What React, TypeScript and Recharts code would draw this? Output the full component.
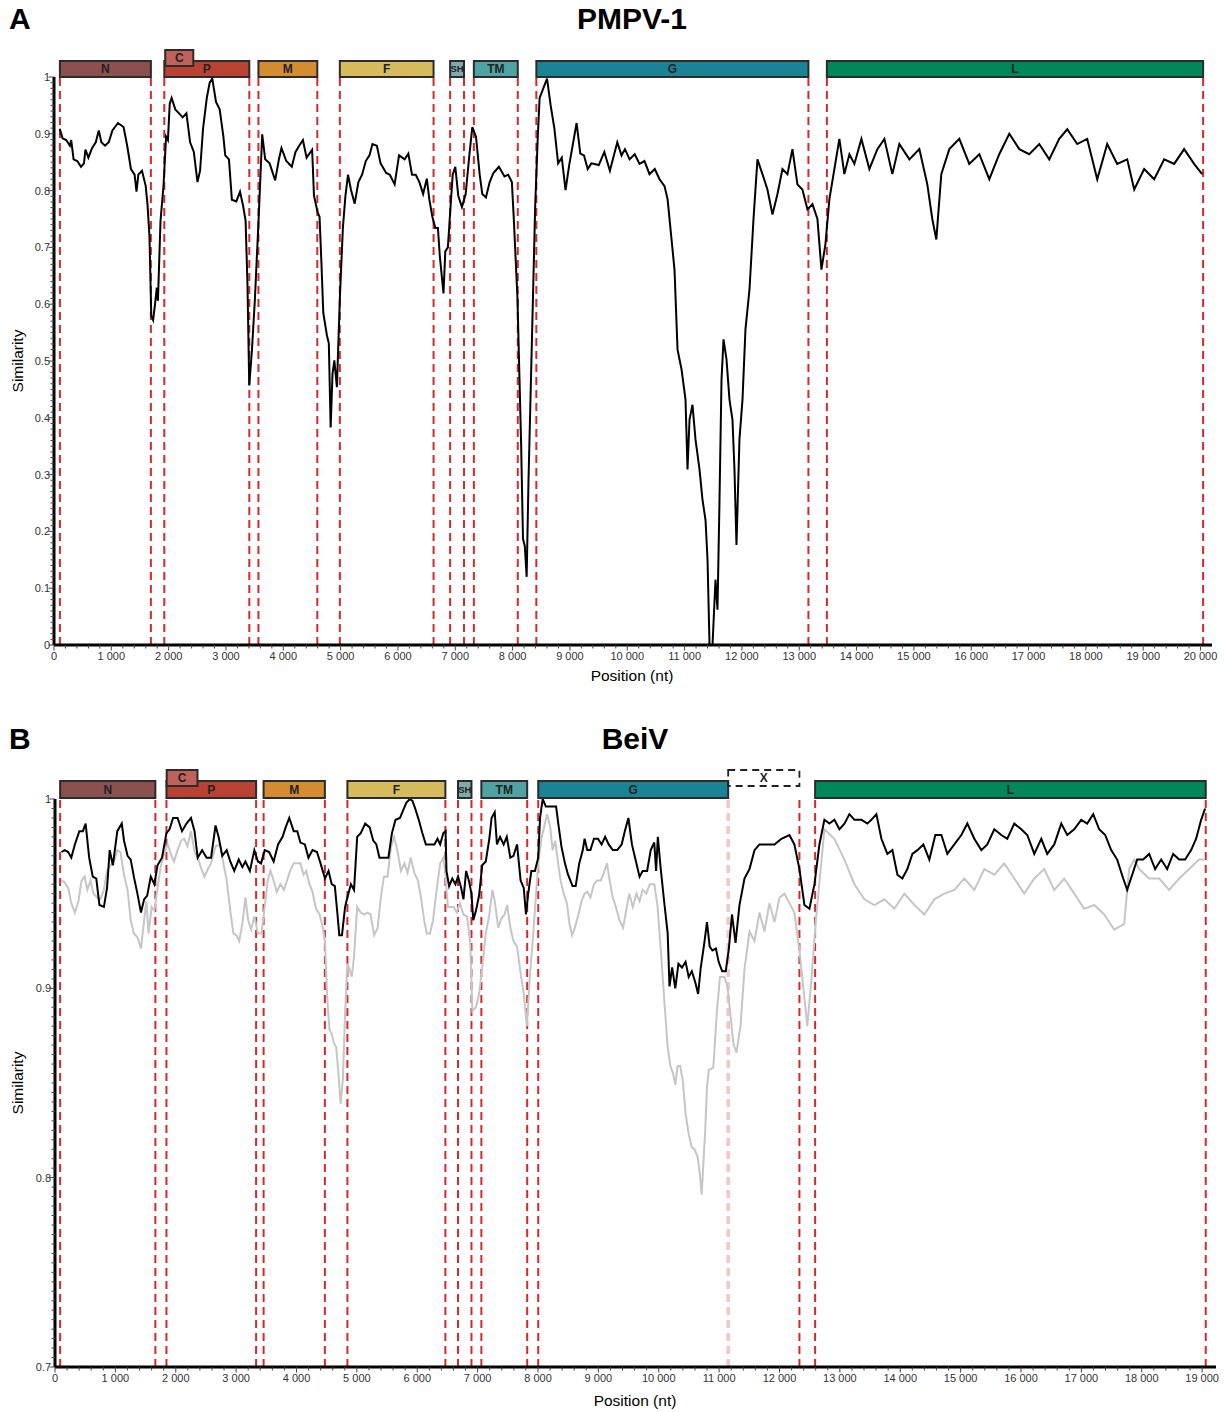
import { LineChart, Line, XAxis, YAxis, ReferenceArea, ReferenceLine } from 'recharts';

const FONT = '"Liberation Sans", Arial, Helvetica, sans-serif';

// ---- genes ----
const geneNames = ['N', 'P', 'M', 'F', 'SH', 'TM', 'G', 'L'];
const geneColors = ['#8b5050', '#b94232', '#d38c2f', '#d6bc5c', '#7eabab', '#4fa3a2', '#1a8494', '#00875a'];
const cColor = '#c0625b';

const pmpvGeneStart = [103, 1924, 3566, 4986, 6910, 7324, 8414, 13482];
const pmpvGeneEnd = [1690, 3407, 4593, 6621, 7152, 8090, 13160, 20045];
const pmpvC = [1940, 2430];

const beivGeneStart = [85, 1846, 3455, 4843, 6675, 7062, 8004, 12590];
const beivGeneEnd = [1662, 3331, 4470, 6466, 6898, 7821, 11150, 19060];
const beivC = [1850, 2360];
const beivX = [11150, 12330];

// ---- PMPV-1 similarity ----
const pmpvPos = [
  100, 150, 213, 277, 300, 342, 406, 471, 523, 548, 600, 665, 729, 781, 826, 890, 955, 1019, 1116, 1213,
  1277, 1342, 1406, 1439, 1471, 1535, 1600, 1632, 1665, 1697, 1729, 1761, 1794, 1813, 1858, 1910, 1955, 1987, 2019, 2052,
  2116, 2181, 2245, 2310, 2374, 2439, 2503, 2548, 2600, 2665, 2716, 2761, 2826, 2890, 2955, 2987, 3052, 3103, 3181, 3245,
  3297, 3342, 3374, 3406, 3452, 3503, 3568, 3632, 3684, 3761, 3858, 3923, 3968, 4052, 4148, 4213, 4277, 4342, 4406, 4503,
  4535, 4600, 4632, 4665, 4697, 4761, 4794, 4826, 4858, 4890, 4935, 4987, 5039, 5084, 5129, 5181, 5245, 5310, 5374, 5439,
  5503, 5555, 5632, 5697, 5794, 5858, 5942, 6019, 6116, 6181, 6245, 6310, 6374, 6439, 6503, 6548, 6600, 6652, 6697, 6729,
  6761, 6794, 6826, 6871, 6910, 6955, 7000, 7052, 7116, 7181, 7245, 7297, 7361, 7426, 7471, 7535, 7600, 7665, 7761, 7858,
  7923, 7987, 8019, 8084, 8148, 8181, 8213, 8245, 8277, 8342, 8394, 8439, 8471, 8535, 8600, 8665, 8729, 8794, 8858, 8923,
  8987, 9052, 9116, 9181, 9245, 9310, 9374, 9503, 9600, 9697, 9826, 9900, 9960, 10040, 10130, 10214, 10300, 10388, 10480, 10563,
  10650, 10703, 10824, 10877, 10947,
  11016, 11051, 11086, 11138, 11190, 11260, 11312, 11365, 11400, 11435, 11487, 11539, 11574, 11609, 11644, 11679, 11731, 11783, 11835, 11870,
  11905, 11957, 12010, 12062, 12132, 12202, 12271, 12358, 12445, 12533, 12620, 12707, 12794, 12881, 12968, 13055, 13143, 13230, 13317, 13387,
  13456, 13526, 13613, 13700, 13787, 13875, 13962, 14084, 14223, 14363, 14485, 14624, 14746, 14921, 15095, 15234, 15321, 15391, 15478, 15618,
  15792, 15966, 16141, 16315, 16489, 16664, 16838, 17012, 17187, 17361, 17535, 17675, 17849, 18023, 18198, 18372, 18546, 18721, 18843, 19017,
  19191, 19366, 19540, 19714, 19888, 20028,
];
const pmpvSim = [
  0.909, 0.892, 0.889, 0.879, 0.889, 0.855, 0.852, 0.842, 0.848, 0.872, 0.858, 0.875, 0.885, 0.906, 0.885, 0.879, 0.885, 0.906, 0.919, 0.912,
  0.879, 0.838, 0.828, 0.798, 0.828, 0.835, 0.808, 0.774, 0.72, 0.579, 0.572, 0.599, 0.629, 0.606, 0.747, 0.808, 0.895, 0.889, 0.953, 0.963,
  0.943, 0.936, 0.929, 0.936, 0.885, 0.868, 0.815, 0.835, 0.909, 0.963, 0.99, 0.997, 0.956, 0.943, 0.895, 0.862, 0.855, 0.784, 0.781, 0.798,
  0.774, 0.747, 0.639, 0.457, 0.518, 0.606, 0.747, 0.899, 0.855, 0.848, 0.818, 0.855, 0.875, 0.852, 0.842, 0.868, 0.879, 0.889, 0.858, 0.872,
  0.791, 0.761, 0.754, 0.673, 0.585, 0.545, 0.531, 0.383, 0.477, 0.501, 0.454, 0.612, 0.734, 0.791, 0.828, 0.801, 0.777, 0.815, 0.828, 0.852,
  0.862, 0.882, 0.879, 0.848, 0.831, 0.828, 0.811, 0.862, 0.855, 0.865, 0.828, 0.828, 0.815, 0.794, 0.821, 0.784, 0.754, 0.734, 0.734, 0.686,
  0.653, 0.619, 0.693, 0.7, 0.761, 0.828, 0.842, 0.791, 0.771, 0.794, 0.862, 0.912, 0.895, 0.828, 0.794, 0.788, 0.815, 0.831, 0.842, 0.825,
  0.828, 0.815, 0.754, 0.612, 0.356, 0.187, 0.174, 0.12, 0.289, 0.558, 0.774, 0.895, 0.963, 0.98, 0.997, 0.949, 0.909, 0.848, 0.858, 0.801,
  0.845, 0.882, 0.919, 0.865, 0.862, 0.838, 0.848, 0.845, 0.868, 0.835, 0.885, 0.862, 0.873, 0.855, 0.864, 0.847, 0.852, 0.829, 0.838, 0.82,
  0.808, 0.785, 0.661, 0.52, 0.485,
  0.432, 0.309, 0.397, 0.423, 0.362, 0.309, 0.256, 0.22, 0.15, 0, 0, 0.115, 0.062, 0.256, 0.467, 0.538, 0.503, 0.432, 0.397, 0.309,
  0.176, 0.362, 0.432, 0.556, 0.626, 0.75, 0.855, 0.829, 0.802, 0.758, 0.794, 0.838, 0.829, 0.873, 0.811, 0.802, 0.767, 0.776, 0.75, 0.661,
  0.705, 0.785, 0.838, 0.891, 0.829, 0.864, 0.847, 0.891, 0.838, 0.873, 0.891, 0.829, 0.882, 0.855, 0.873, 0.811, 0.75, 0.714, 0.829, 0.873,
  0.891, 0.847, 0.864, 0.82, 0.864, 0.9, 0.873, 0.864, 0.882, 0.855, 0.891, 0.908, 0.882, 0.891, 0.82, 0.882, 0.847, 0.855, 0.802, 0.838,
  0.82, 0.855, 0.847, 0.873, 0.847, 0.829,
];

// ---- BeiV similarity (black) ----
const beivPos = [
  107, 159, 218, 270, 329, 403, 462, 507, 566, 625, 684, 736, 810, 862, 906, 958, 1032, 1106, 1143, 1202,
  1254, 1306, 1365, 1424, 1476, 1527, 1586, 1646, 1698, 1772, 1846, 1897, 1956, 2030, 2104, 2178, 2252, 2311, 2363, 2437,
  2511, 2585, 2659, 2710, 2770, 2844, 2903, 2969, 3043, 3103, 3154, 3228, 3302, 3361, 3413, 3473, 3547, 3621, 3695, 3769,
  3820, 3880, 3954, 4013, 4065, 4139, 4198, 4265, 4339, 4398, 4472, 4531, 4583, 4635, 4679, 4709, 4753, 4805, 4842, 4901,
  4953, 5005, 5064, 5138, 5212, 5271, 5323, 5374, 5448, 5522, 5581, 5640, 5714, 5766, 5818, 5877, 5921, 5966, 6025, 6084,
  6143, 6210, 6284, 6335, 6380, 6432, 6469, 6484, 6528, 6580, 6632, 6676, 6728, 6765, 6810, 6854, 6898, 6928, 6972, 7024,
  7076, 7135, 7194, 7231, 7283, 7320, 7372, 7431, 7483, 7542, 7594, 7653, 7712, 7764, 7801, 7838, 7890, 7949, 8004, 8034,
  8078, 8130, 8204, 8300, 8336, 8388, 8446, 8498, 8572, 8624, 8683, 8742, 8772, 8816, 8868, 8927, 8994, 9053, 9112, 9171,
  9238, 9312, 9386, 9438, 9497, 9556, 9608, 9682, 9734, 9808, 9867, 9926, 9956, 9985, 10030, 10089, 10148, 10178, 10222, 10274,
  10326, 10385, 10444, 10496, 10548, 10607, 10652, 10696, 10755, 10799, 10844, 10888, 10947, 10992, 11051, 11110, 11161, 11213, 11272, 11337,
  11420, 11503, 11586, 11668, 11801, 11917, 12032, 12165, 12247, 12330, 12413, 12496, 12579, 12661, 12744, 12827, 12910, 12992, 13075, 13158,
  13241, 13357, 13456, 13522, 13605, 13688, 13787, 13870, 13953, 14035, 14118, 14201, 14284, 14383, 14482, 14581, 14681, 14780, 14896, 15012,
  15111, 15227, 15343, 15442, 15558, 15674, 15773, 15889, 16005, 16104, 16220, 16336, 16435, 16551, 16667, 16766, 16882, 16998, 17097, 17196,
  17295, 17395, 17494, 17593, 17693, 17759, 17842, 17924, 18024, 18123, 18222, 18322, 18421, 18520, 18620, 18719, 18818, 18901, 18984, 19050,
];
const beivSim = [
  0.972, 0.973, 0.972, 0.969, 0.976, 0.983, 0.983, 0.987, 0.969, 0.959, 0.958, 0.944, 0.943, 0.953, 0.973, 0.965, 0.983, 0.987, 0.978, 0.97,
  0.968, 0.959, 0.95, 0.94, 0.947, 0.949, 0.959, 0.955, 0.965, 0.969, 0.982, 0.984, 0.99, 0.99, 0.983, 0.987, 0.99, 0.983, 0.969, 0.973,
  0.969, 0.969, 0.986, 0.98, 0.97, 0.973, 0.967, 0.962, 0.968, 0.964, 0.967, 0.962, 0.973, 0.967, 0.966, 0.973, 0.972, 0.967, 0.976, 0.98,
  0.985, 0.99, 0.983, 0.983, 0.977, 0.976, 0.969, 0.973, 0.972, 0.966, 0.958, 0.962, 0.955, 0.954, 0.939, 0.928, 0.928, 0.943, 0.948, 0.955,
  0.952, 0.98, 0.982, 0.987, 0.985, 0.978, 0.976, 0.969, 0.969, 0.969, 0.982, 0.989, 0.99, 0.994, 0.998, 1.0, 0.999, 0.995, 0.989, 0.982,
  0.976, 0.976, 0.976, 0.979, 0.976, 0.982, 0.983, 0.962, 0.954, 0.958, 0.955, 0.959, 0.953, 0.947, 0.962, 0.957, 0.95, 0.936, 0.941, 0.949,
  0.965, 0.967, 0.979, 0.99, 0.993, 0.976, 0.98, 0.976, 0.98, 0.969, 0.97, 0.976, 0.957, 0.953, 0.939, 0.95, 0.962, 0.962, 0.969, 0.99,
  1.0, 0.996, 0.996, 0.996, 0.987, 0.975, 0.966, 0.96, 0.954, 0.954, 0.966, 0.973, 0.979, 0.973, 0.973, 0.979, 0.979, 0.976, 0.98, 0.976,
  0.973, 0.973, 0.976, 0.983, 0.99, 0.976, 0.969, 0.959, 0.962, 0.962, 0.973, 0.977, 0.962, 0.98, 0.964, 0.946, 0.929, 0.901, 0.911, 0.9,
  0.913, 0.911, 0.914, 0.906, 0.909, 0.903, 0.897, 0.911, 0.924, 0.935, 0.922, 0.92, 0.921, 0.914, 0.909, 0.909, 0.921, 0.939, 0.924, 0.944,
  0.958, 0.963, 0.973, 0.976, 0.976, 0.976, 0.979, 0.981, 0.976, 0.963, 0.944, 0.942, 0.955, 0.976, 0.989, 0.987, 0.989, 0.984, 0.987, 0.992,
  0.989, 0.989, 0.987, 0.989, 0.992, 0.979, 0.971, 0.973, 0.96, 0.958, 0.963, 0.971, 0.973, 0.976, 0.968, 0.981, 0.981, 0.971, 0.976, 0.981,
  0.987, 0.979, 0.973, 0.976, 0.984, 0.981, 0.979, 0.987, 0.984, 0.981, 0.971, 0.979, 0.971, 0.976, 0.987, 0.981, 0.984, 0.989, 0.987, 0.992,
  0.984, 0.981, 0.973, 0.968, 0.958, 0.952, 0.96, 0.968, 0.968, 0.971, 0.963, 0.968, 0.963, 0.971, 0.968, 0.968, 0.973, 0.979, 0.989, 0.995,
];

// ---- BeiV similarity (grey, second comparison) ----
const beivGreyPos = [
  107, 159, 218, 270, 329, 388, 440, 492, 536, 588, 640, 699, 751, 810, 862, 921, 980, 1032, 1084, 1143,
  1202, 1254, 1306, 1365, 1424, 1476, 1513, 1550, 1601, 1646, 1698, 1749, 1808, 1867, 1919, 1971, 2030, 2089, 2141, 2193,
  2252, 2311, 2363, 2415, 2474, 2533, 2585, 2659, 2733, 2784, 2844, 2903, 2955, 3006, 3051, 3103, 3154, 3199, 3250, 3302,
  3361, 3420, 3473, 3524, 3569, 3621, 3673, 3732, 3791, 3843, 3895, 3954, 4013, 4065, 4117, 4161, 4213, 4265, 4324, 4383,
  4435, 4472, 4509, 4546, 4583, 4620, 4657, 4694, 4731, 4768, 4805, 4842, 4879, 4916, 4953, 5005, 5064, 5123, 5175, 5227,
  5286, 5345, 5397, 5448, 5507, 5566, 5618, 5670, 5729, 5788, 5840, 5892, 5951, 6010, 6062, 6114, 6158, 6210, 6262, 6321,
  6380, 6432, 6469, 6506, 6543, 6602, 6654, 6706, 6765, 6824, 6876, 6913, 6972, 7024, 7076, 7135, 7194, 7246, 7283, 7342,
  7394, 7446, 7490, 7542, 7594, 7653, 7712, 7764, 7816, 7860, 7912, 7964, 8004, 8056, 8108, 8152, 8204, 8241, 8285, 8329,
  8374, 8426, 8478, 8522, 8566, 8611, 8670, 8721, 8772, 8817, 8868, 8927, 8979, 9038, 9090, 9142, 9186, 9238, 9290, 9349,
  9408, 9460, 9512, 9571, 9630, 9682, 9734, 9793, 9852, 9926, 9978, 10030, 10089, 10148, 10193, 10237, 10274, 10311, 10355, 10399,
  10444, 10496, 10548, 10592, 10644, 10681, 10711, 10740, 10770, 10799, 10829, 10903, 10962, 11014, 11088, 11139, 11184, 11235, 11287, 11354,
  11420, 11503, 11586, 11668, 11751, 11834, 11917, 12000, 12082, 12165, 12247, 12330, 12413, 12460, 12530, 12600, 12744, 12910, 13075, 13241,
  13406, 13572, 13737, 13903, 14068, 14234, 14399, 14565, 14730, 14896, 15061, 15227, 15392, 15558, 15723, 15889, 16054, 16220, 16385, 16551,
  16716, 16882, 17047, 17213, 17378, 17544, 17709, 17792, 17875, 17958, 18123, 18289, 18454, 18620, 18785, 18950, 19050,
];
const beivGreySim = [
  0.957, 0.956, 0.953, 0.945, 0.94, 0.946, 0.957, 0.959, 0.952, 0.957, 0.95, 0.948, 0.947, 0.952, 0.962, 0.965, 0.967, 0.973, 0.972, 0.96,
  0.952, 0.936, 0.929, 0.927, 0.921, 0.936, 0.946, 0.929, 0.943, 0.941, 0.953, 0.964, 0.971, 0.976, 0.971, 0.967, 0.973, 0.978, 0.979, 0.975,
  0.983, 0.972, 0.969, 0.964, 0.959, 0.963, 0.966, 0.975, 0.976, 0.967, 0.957, 0.941, 0.929, 0.928, 0.925, 0.934, 0.948, 0.936, 0.931, 0.938,
  0.929, 0.929, 0.943, 0.957, 0.962, 0.957, 0.951, 0.955, 0.952, 0.957, 0.962, 0.966, 0.966, 0.966, 0.96, 0.962, 0.955, 0.951, 0.942, 0.939,
  0.932, 0.925, 0.895, 0.878, 0.876, 0.871, 0.869, 0.855, 0.839, 0.852, 0.887, 0.913, 0.91, 0.906, 0.917, 0.943, 0.94, 0.939, 0.94, 0.939,
  0.928, 0.932, 0.948, 0.959, 0.959, 0.975, 0.98, 0.973, 0.962, 0.966, 0.961, 0.969, 0.961, 0.957, 0.948, 0.936, 0.929, 0.929, 0.936, 0.952,
  0.966, 0.969, 0.96, 0.943, 0.943, 0.943, 0.94, 0.945, 0.939, 0.938, 0.925, 0.888, 0.89, 0.897, 0.911, 0.929, 0.939, 0.952, 0.946, 0.932,
  0.937, 0.939, 0.944, 0.932, 0.925, 0.922, 0.908, 0.897, 0.88, 0.904, 0.925, 0.948, 0.966, 0.979, 0.986, 0.992, 0.985, 0.973, 0.978, 0.967,
  0.957, 0.95, 0.945, 0.934, 0.928, 0.932, 0.939, 0.946, 0.95, 0.951, 0.948, 0.955, 0.957, 0.957, 0.961, 0.966, 0.957, 0.948, 0.943, 0.936,
  0.932, 0.941, 0.95, 0.943, 0.95, 0.946, 0.952, 0.95, 0.955, 0.955, 0.944, 0.922, 0.895, 0.869, 0.859, 0.855, 0.849, 0.859, 0.859, 0.851,
  0.834, 0.823, 0.816, 0.815, 0.811, 0.802, 0.791, 0.808, 0.825, 0.848, 0.857, 0.858, 0.887, 0.906, 0.906, 0.901, 0.887, 0.871, 0.866, 0.88,
  0.91, 0.93, 0.925, 0.94, 0.93, 0.945, 0.935, 0.948, 0.95, 0.945, 0.94, 0.92, 0.895, 0.88, 0.905, 0.935, 0.984, 0.979, 0.968, 0.955,
  0.947, 0.944, 0.947, 0.942, 0.95, 0.944, 0.939, 0.947, 0.95, 0.952, 0.958, 0.952, 0.963, 0.96, 0.966, 0.958, 0.95, 0.958, 0.963, 0.952,
  0.958, 0.95, 0.942, 0.944, 0.939, 0.931, 0.934, 0.963, 0.968, 0.963, 0.958, 0.958, 0.952, 0.958, 0.963, 0.968, 0.968,
];

// axis ticks
const xTicksA = Array.from({ length: 101 }, (_, i) => i * 200);
const xTicksB = Array.from({ length: 96 }, (_, i) => i * 200);
const yTicksA = Array.from({ length: 101 }, (_, i) => i / 100);
const yTicksB = Array.from({ length: 61 }, (_, i) => Math.round((0.7 + i * 0.005) * 1000) / 1000);

const zip = (pos: number[], sim: number[]) => pos.map((p, i) => ({ pos: p, sim: sim[i] }));
const pmpvData = zip(pmpvPos, pmpvSim);
const beivData = zip(beivPos, beivSim);
const beivGreyData = zip(beivGreyPos, beivGreySim);

const fmtX = (v: number) => (v === 0 ? '0' : `${Math.floor(v / 1000)} 000`);

const XTick = (props: any) => {
  const { x, y, payload } = props;
  const v = payload.value;
  const major = v % 1000 === 0;
  return (
    <g>
      <line x1={x} x2={x} y1={y} y2={y + (major ? 5.5 : 3.5)} stroke="#444" strokeWidth={1} />
      {major && (
        <text x={x} y={y + 15} textAnchor="middle" fontSize={11} fill="#333" fontFamily={FONT}>
          {fmtX(v)}
        </text>
      )}
    </g>
  );
};

const YTick = (props: any) => {
  const { x, y, payload } = props;
  const v = payload.value;
  const major = Math.abs(v * 10 - Math.round(v * 10)) < 1e-6;
  return (
    <g>
      <line x1={x} x2={x - (major ? 5.5 : 3.5)} y1={y} y2={y} stroke="#444" strokeWidth={1} />
      {major && (
        <text x={x - 4} y={y + 4} textAnchor="end" fontSize={11} fill="#333" fontFamily={FONT}>
          {String(Math.round(v * 10) / 10)}
        </text>
      )}
    </g>
  );
};

const labelStyle = (name: string) => ({
  value: name,
  position: 'center' as const,
  fill: '#222',
  fontSize: name === 'SH' ? 9.5 : 12,
  fontWeight: 700,
  fontFamily: FONT,
});

const geneAreas = (prefix: string, starts: number[], ends: number[], lo: number, hi: number) =>
  geneNames.map((name, i) => (
    <ReferenceArea
      key={`${prefix}-${name}`}
      x1={starts[i]}
      x2={ends[i]}
      y1={lo}
      y2={hi}
      ifOverflow="visible"
      fill={geneColors[i]}
      fillOpacity={1}
      stroke="#2b2b2b"
      strokeWidth={2}
      label={labelStyle(name)}
    />
  ));

const boundaryLines = (prefix: string, xs: number[], color = '#d42a2a', width = 2) =>
  xs.map((x, i) => (
    <ReferenceLine
      key={`${prefix}-${i}`}
      x={x}
      stroke={color}
      strokeWidth={width}
      strokeDasharray="8 5"
      ifOverflow="visible"
    />
  ));

const axisLine = { stroke: '#000', strokeWidth: 3 };

const textBase: React.CSSProperties = { position: 'absolute', fontFamily: FONT, color: '#000', whiteSpace: 'nowrap' };

export default function App() {
  // panel geometry (pixels)
  const plotH = 568;
  const pxA = 1 / plotH; // similarity units per px, panel A
  const pxB = 0.3 / plotH; // panel B

  const aLines = [...pmpvGeneStart, ...pmpvGeneEnd];
  const bLines = [...beivGeneStart, ...beivGeneEnd.filter((_, i) => geneNames[i] !== 'G'), beivX[1]];

  return (
    <div style={{ position: 'absolute', left: 0, top: 0, width: 1228, height: 1412, background: '#fff' }}>
      {/* Panel A */}
      <div style={{ position: 'absolute', left: 0, top: 0 }}>
        <LineChart width={1228} height={700} margin={{ top: 77, right: 16, bottom: 25, left: 10 }}>
          <XAxis
            dataKey="pos"
            type="number"
            domain={[0, 20200]}
            ticks={xTicksA}
            interval={0}
            tick={<XTick />}
            tickLine={false}
            tickSize={0}
            tickMargin={0}
            axisLine={axisLine}
            height={30}
            allowDataOverflow
          />
          <YAxis
            type="number"
            domain={[0, 1]}
            ticks={yTicksA}
            interval={0}
            tick={<YTick />}
            tickLine={false}
            tickSize={0}
            tickMargin={0}
            axisLine={axisLine}
            width={44}
            allowDataOverflow
          />
          {boundaryLines('a', aLines)}
          {geneAreas('a', pmpvGeneStart, pmpvGeneEnd, 1 + 0 * pxA, 1 + 16 * pxA)}
          <ReferenceArea
            x1={pmpvC[0]}
            x2={pmpvC[1]}
            y1={1 + 11 * pxA}
            y2={1 + 27 * pxA}
            ifOverflow="visible"
            fill={cColor}
            fillOpacity={1}
            stroke="#2b2b2b"
            strokeWidth={2}
            label={labelStyle('C')}
          />
          <Line data={pmpvData} dataKey="sim" type="linear" stroke="#000" strokeWidth={2} dot={false} isAnimationActive={false} />
        </LineChart>
      </div>

      {/* Panel B */}
      <div style={{ position: 'absolute', left: 0, top: 720 }}>
        <LineChart width={1228} height={692} margin={{ top: 79, right: 12, bottom: 15, left: 10 }}>
          <XAxis
            dataKey="pos"
            type="number"
            domain={[0, 19230]}
            ticks={xTicksB}
            interval={0}
            tick={<XTick />}
            tickLine={false}
            tickSize={0}
            tickMargin={0}
            axisLine={axisLine}
            height={30}
            allowDataOverflow
          />
          <YAxis
            type="number"
            domain={[0.7, 1]}
            ticks={yTicksB}
            interval={0}
            tick={<YTick />}
            tickLine={false}
            tickSize={0}
            tickMargin={0}
            axisLine={axisLine}
            width={45}
            allowDataOverflow
          />
          {boundaryLines('b', bLines)}
          {boundaryLines('bg', [beivGeneEnd[6]], '#f3c5c5', 3.5)}
          {geneAreas('b', beivGeneStart, beivGeneEnd, 1 + 1 * pxB, 1 + 18 * pxB)}
          <ReferenceArea
            x1={beivC[0]}
            x2={beivC[1]}
            y1={1 + 13 * pxB}
            y2={1 + 29 * pxB}
            ifOverflow="visible"
            fill={cColor}
            fillOpacity={1}
            stroke="#2b2b2b"
            strokeWidth={2}
            label={labelStyle('C')}
          />
          <ReferenceArea
            x1={beivX[0]}
            x2={beivX[1]}
            y1={1 + 13 * pxB}
            y2={1 + 29 * pxB}
            ifOverflow="visible"
            fill="#fff"
            fillOpacity={0}
            stroke="#222"
            strokeWidth={1.8}
            strokeDasharray="7 5"
            label={labelStyle('X')}
          />
          <Line data={beivGreyData} dataKey="sim" type="linear" stroke="#c6c6c6" strokeWidth={2} dot={false} isAnimationActive={false} />
          <Line data={beivData} dataKey="sim" type="linear" stroke="#000" strokeWidth={2} dot={false} isAnimationActive={false} />
        </LineChart>
      </div>

      {/* text */}
      <div style={{ ...textBase, left: 9, top: 2, fontSize: 30, fontWeight: 700 }}>A</div>
      <div style={{ ...textBase, left: 632, top: 2, fontSize: 30, fontWeight: 700, transform: 'translateX(-50%)' }}>PMPV-1</div>
      <div style={{ ...textBase, left: 9, top: 722, fontSize: 30, fontWeight: 700 }}>B</div>
      <div style={{ ...textBase, left: 635, top: 722, fontSize: 30, fontWeight: 700, transform: 'translateX(-50%)' }}>BeiV</div>
      <div style={{ ...textBase, left: 18, top: 361, fontSize: 15.5, transform: 'translate(-50%, -50%) rotate(-90deg)' }}>Similarity</div>
      <div style={{ ...textBase, left: 18, top: 1083, fontSize: 15.5, transform: 'translate(-50%, -50%) rotate(-90deg)' }}>Similarity</div>
      <div style={{ ...textBase, left: 632, top: 676, fontSize: 15.5, transform: 'translate(-50%, -50%)' }}>Position (nt)</div>
      <div style={{ ...textBase, left: 635, top: 1401, fontSize: 15.5, transform: 'translate(-50%, -50%)' }}>Position (nt)</div>
    </div>
  );
}
